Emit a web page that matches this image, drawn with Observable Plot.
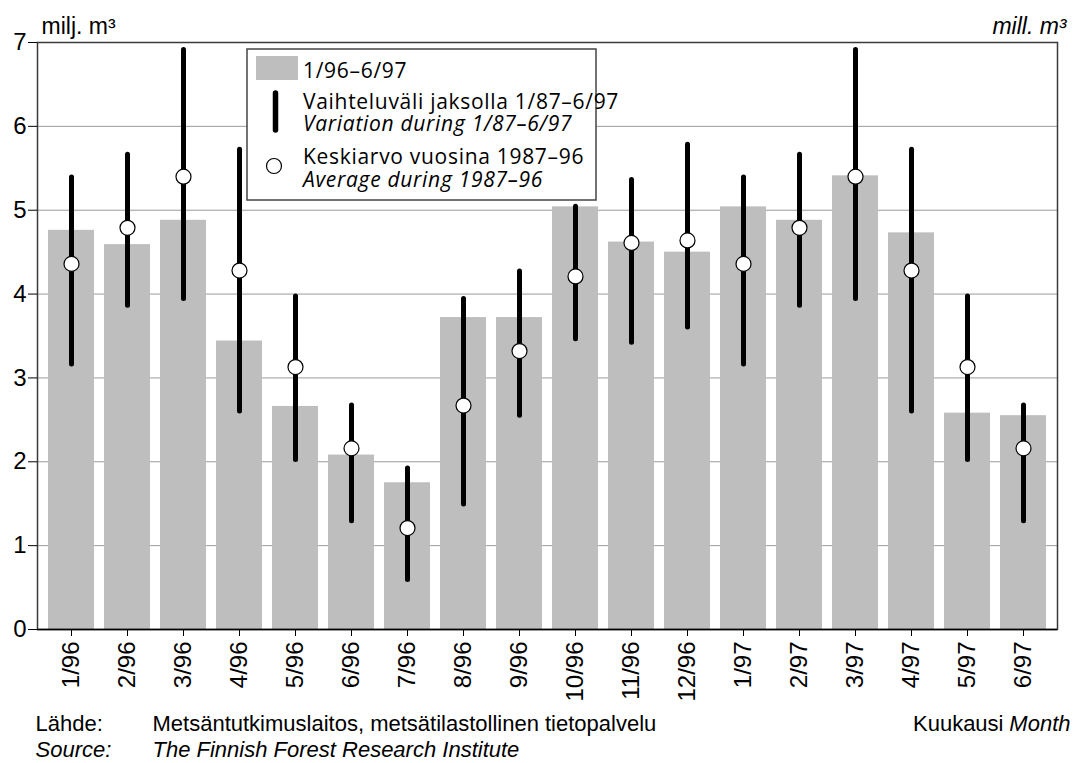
<!DOCTYPE html>
<html>
<head>
<meta charset="utf-8">
<script src="https://cdn.jsdelivr.net/npm/d3@7"></script>
<script src="https://cdn.jsdelivr.net/npm/@observablehq/plot@0.6"></script>
<style>
  html, body { margin: 0; padding: 0; background: #fff; }
  #chart svg { display: block; overflow: visible; }
</style>
</head>
<body>
<div id="chart"></div>
<script>
// ---- Data ----
const months = ["1/96","2/96","3/96","4/96","5/96","6/96","7/96","8/96","9/96","10/96","11/96","12/96","1/97","2/97","3/97","4/97","5/97","6/97"];
const actual   = [4.76, 4.59, 4.88, 3.44, 2.66, 2.08, 1.75, 3.72, 3.72, 5.04, 4.62, 4.50, 5.04, 4.88, 5.41, 4.73, 2.58, 2.55];
const rangeMin = [3.16, 3.86, 3.94, 2.60, 2.02, 1.29, 0.59, 1.49, 2.55, 3.46, 3.42, 3.60, 3.16, 3.86, 3.94, 2.60, 2.02, 1.29];
const rangeMax = [5.39, 5.66, 6.91, 5.72, 3.97, 2.67, 1.92, 3.94, 4.27, 5.04, 5.36, 5.78, 5.39, 5.66, 6.91, 5.72, 3.97, 2.67];
const average  = [4.36, 4.79, 5.40, 4.28, 3.13, 2.16, 1.21, 2.67, 3.32, 4.21, 4.61, 4.64, 4.36, 4.79, 5.40, 4.28, 3.13, 2.16];
const yTicks = [0, 1, 2, 3, 4, 5, 6, 7];
const gridTicks = [1, 2, 3, 4, 5, 6];

const legendBar = "1/96–6/97";
const legendRange = ["Vaihteluväli jaksolla 1/87–6/97", "Variation during 1/87–6/97"];
const legendAvg = ["Keskiarvo vuosina 1987–96", "Average during 1987–96"];
const unitFi = "milj. m³";
const unitEn = "mill. m³";
const sourceFi = ["Lähde:", "Metsäntutkimuslaitos, metsätilastollinen tietopalvelu"];
const sourceEn = ["Source:", "The Finnish Forest Research Institute"];
const axisFi = "Kuukausi";
const axisEn = "Month";

const data = months.map((m, i) => ({month: m, actual: actual[i], min: rangeMin[i], max: rangeMax[i], avg: average[i]}));

const sans = "'Liberation Sans', Arial, Helvetica, sans-serif";
const legendFont = "'Open Sans', 'Noto Sans', sans-serif";
const barFill = "#bebebe";

function legend(index, scales, values, dimensions) {
  const g = d3.create("svg:g");
  const x0 = 247, y0 = 49, w = 349, h = 151;
  g.append("rect").attr("x", x0).attr("y", y0).attr("width", w).attr("height", h)
    .attr("fill", "white").attr("stroke", "#444").attr("stroke-width", 1.5);
  g.append("rect").attr("x", 256).attr("y", 56).attr("width", 42).attr("height", 24).attr("fill", barFill);
  g.append("line").attr("x1", 275.5).attr("x2", 275.5).attr("y1", 93).attr("y2", 130)
    .attr("stroke", "black").attr("stroke-width", 5.5).attr("stroke-linecap", "round");
  g.append("circle").attr("cx", 274).attr("cy", 166).attr("r", 7.5)
    .attr("fill", "white").attr("stroke", "black").attr("stroke-width", 1.2);
  const t = (txt, y, italic) => g.append("text").attr("x", 303).attr("y", y)
    .attr("text-anchor", "start")
    .attr("font-family", legendFont).attr("font-size", 21).attr("letter-spacing", 0.7)
    .attr("font-style", italic ? "italic" : "normal").attr("fill", "black").text(txt);
  t(legendBar, 77.5, false);
  t(legendRange[0], 108.5, false);
  t(legendRange[1], 130.5, true);
  t(legendAvg[0], 163.5, false);
  t(legendAvg[1], 186.5, true);
  return g.node();
}

const plot = Plot.plot({
  width: 1073,
  height: 763,
  marginLeft: 37,
  marginRight: 16,
  marginTop: 42,
  marginBottom: 134,
  style: {fontFamily: sans, color: "black", background: "white"},
  x: {domain: months, padding: 0, label: null},
  y: {domain: [0, 7], label: null},
  marks: [
    Plot.gridY(gridTicks, {stroke: "#9a9a9a", strokeOpacity: 1, strokeWidth: 1}),
    Plot.barY(data, {x: "month", y: "actual", fill: barFill, insetLeft: 5, insetRight: 5}),
    Plot.ruleX(data, {x: "month", y1: "min", y2: "max", stroke: "black", strokeWidth: 5, strokeLinecap: "round"}),
    Plot.dot(data, {x: "month", y: "avg", r: 7.5, fill: "white", stroke: "black", strokeWidth: 1.2}),
    Plot.frame({stroke: "#3a3a3a", strokeWidth: 1.5}),
    Plot.ruleY([0], {stroke: "black", strokeWidth: 1.5}),
    Plot.axisY(yTicks, {tickSize: 9, tickPadding: 2, tickFormat: d => String(d), fontSize: 24, fontFamily: sans, label: null, stroke: "black"}),
    Plot.axisX({tickRotate: -90, tickSize: 7, tickPadding: 5, fontSize: 24, fontFamily: sans, label: null, stroke: "black"}),
    Plot.text([unitFi], {frameAnchor: "top-left", text: d => d, dx: 4, dy: -9, lineAnchor: "bottom", textAnchor: "start", fontSize: 23, fontFamily: sans}),
    Plot.text([unitEn], {frameAnchor: "top-right", text: d => d, dx: 9, dy: -9, lineAnchor: "bottom", textAnchor: "end", fontSize: 23, fontFamily: sans, fontStyle: "italic"}),
    Plot.text([sourceFi[0]], {frameAnchor: "bottom-left", text: d => d, dx: -2, dy: 101, lineAnchor: "bottom", textAnchor: "start", fontSize: 22, fontFamily: sans}),
    Plot.text([sourceFi[1]], {frameAnchor: "bottom-left", text: d => d, dx: 115, dy: 101, lineAnchor: "bottom", textAnchor: "start", fontSize: 22, fontFamily: sans}),
    Plot.text([sourceEn[0]], {frameAnchor: "bottom-left", text: d => d, dx: -2, dy: 127.5, lineAnchor: "bottom", textAnchor: "start", fontSize: 22, fontFamily: sans, fontStyle: "italic"}),
    Plot.text([sourceEn[1]], {frameAnchor: "bottom-left", text: d => d, dx: 115, dy: 127.5, lineAnchor: "bottom", textAnchor: "start", fontSize: 22, fontFamily: sans, fontStyle: "italic"}),
    Plot.text([axisEn], {frameAnchor: "bottom-right", text: d => d, dx: 13, dy: 101, lineAnchor: "bottom", textAnchor: "end", fontSize: 22, fontFamily: sans, fontStyle: "italic"}),
    Plot.text([axisFi], {frameAnchor: "bottom-right", text: d => d, dx: -54, dy: 101, lineAnchor: "bottom", textAnchor: "end", fontSize: 22, fontFamily: sans}),
    legend
  ]
});
document.getElementById("chart").appendChild(plot);
</script>
</body>
</html>
